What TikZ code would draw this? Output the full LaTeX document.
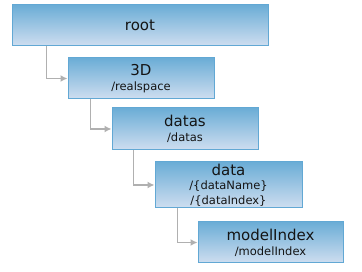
\documentclass[tikz,border=0pt]{standalone}
\usepackage{fontspec}
\setmainfont{DejaVu Sans}
\usetikzlibrary{arrows.meta}
\definecolor{boxtop}{HTML}{6BADD6}
\definecolor{boxbot}{HTML}{CFDEF0}
\definecolor{boxline}{HTML}{62A8D4}
\definecolor{linkgray}{HTML}{B0B0B0}
\definecolor{txt}{HTML}{141414}
\newcommand{\ttl}[1]{{\fontsize{15}{17}\selectfont #1}}
\tikzset{
  box/.style={draw=boxline, line width=1pt, top color=boxtop, bottom color=boxbot,
    minimum width=146pt, minimum height=41pt, inner sep=0pt, align=center, text=txt,
    font=\fontsize{11.5}{15}\selectfont},
  link/.style={draw=linkgray, line width=1.6pt, -{Latex[length=7pt,width=7pt]}}
}
\begin{document}
\begin{tikzpicture}[x=1pt,y=-1pt]
    \useasboundingbox (0,0) rectangle (362,272);
    \node[box, minimum width=256pt] (root) at (140,25.5) {\ttl{root}};
    \node[box] (space) at (141,78.5) {\ttl{3D}\\/realspace};
    \node[box, minimum height=42pt] (datas) at (185,129) {\ttl{datas}\\/datas};
    \node[box, minimum width=147pt, minimum height=46pt] (data) at (228.5,185)
        {\ttl{data}\\[-1pt]/\{dataName\}\\/\{dataIndex\}};
    \node[box, minimum width=145pt] (model) at (270.5,242.5) {\ttl{modelIndex}\\/modelIndex};
    \draw[link] ([xshift=35pt]root.south west) |- (space.west);
    \draw[link] ([xshift=23pt]space.south west) |- (datas.west);
    \draw[link] ([xshift=22pt]datas.south west) |- (data.west);
    \draw[link] ([xshift=23pt]data.south west) |- (model.west);
\end{tikzpicture}
\end{document}
